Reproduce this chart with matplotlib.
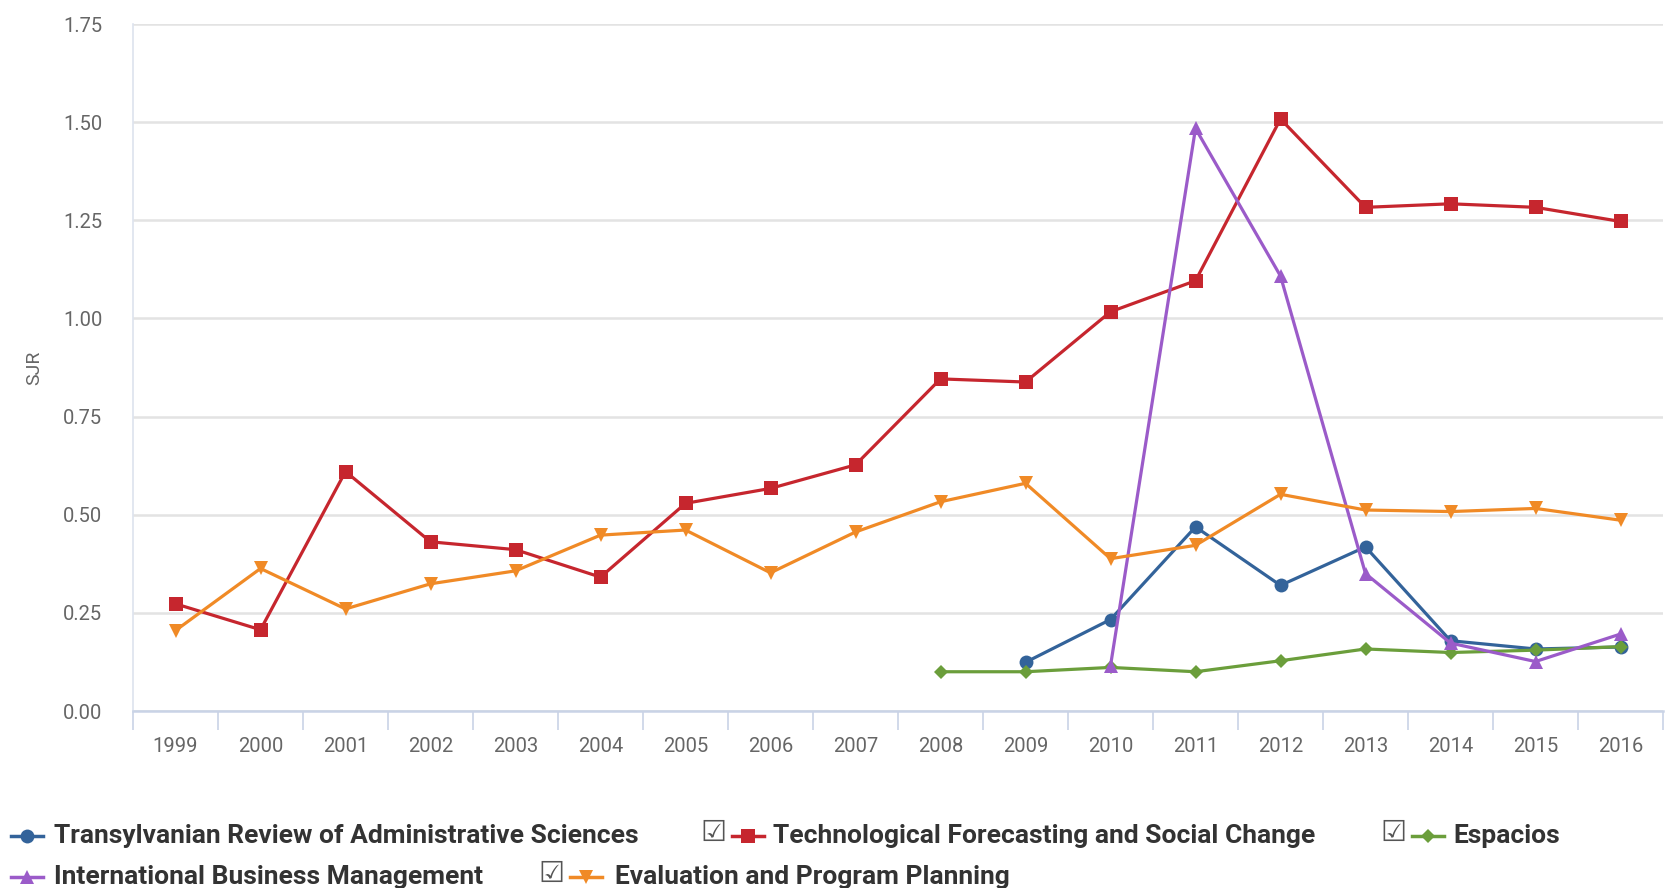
import matplotlib
matplotlib.use("Agg")
import matplotlib.pyplot as plt
from matplotlib.lines import Line2D
from matplotlib.ticker import FixedLocator, NullFormatter

plt.rcParams['font.family'] = ['Liberation Sans Narrow', 'Roboto', 'DejaVu Sans']

years = [str(y) for y in range(1999, 2017)]

# SJR values per journal, None where the journal has no value
transylvanian = [None] * 10 + [0.124, 0.233, 0.469, 0.320, 0.418, 0.179, 0.158, 0.163]
technological = [0.273, 0.207, 0.610, 0.431, 0.411, 0.341, 0.529, 0.567, 0.627,
                 0.846, 0.838, 1.017, 1.096, 1.508, 1.283, 1.292, 1.283, 1.247]
espacios = [None] * 9 + [0.100, 0.100, 0.111, 0.100, 0.128, 0.158, 0.149, 0.155, 0.164]
intl_business = [None] * 11 + [0.115, 1.484, 1.108, 0.350, 0.173, 0.126, 0.196]
evaluation = [0.205, 0.363, 0.260, 0.324, 0.357, 0.448, 0.461, 0.352, 0.456,
              0.533, 0.580, 0.388, 0.422, 0.552, 0.512, 0.508, 0.516, 0.486]

series = [
    ("Transylvanian Review of Administrative Sciences", transylvanian, "#33639a", "o", 10),
    ("Technological Forecasting and Social Change", technological, "#c6262e", "s", 10),
    ("Espacios", espacios, "#6b9e3b", "D", 7),
    ("International Business Management", intl_business, "#9b5bc9", "^", 10),
    ("Evaluation and Program Planning", evaluation, "#f08a26", "v", 10),
]

W, H = 1679, 888
fig = plt.figure(figsize=(W / 100, H / 100), dpi=100)
ax = fig.add_axes([133 / W, 1 - 711 / H, (1663 - 133) / W, (711 - 24) / H])

x = list(range(len(years)))
for i, (name, vals, color, marker, ms) in enumerate(series):
    xs = [xi for xi, v in zip(x, vals) if v is not None]
    ys = [v for v in vals if v is not None]
    ax.plot(xs, ys, color=color, lw=2.3, marker=marker, markersize=ms,
            markeredgewidth=0, zorder=3 + i, clip_on=False)

ax.set_xlim(-0.5, len(years) - 0.5)
ax.set_ylim(0, 1.75)
ax.set_yticks([0, 0.25, 0.5, 0.75, 1.0, 1.25, 1.5, 1.75])
ax.set_yticklabels(["0.00", "0.25", "0.50", "0.75", "1.00", "1.25", "1.50", "1.75"])
ax.set_xticks(x)
ax.set_xticklabels(years)
ax.xaxis.set_minor_locator(FixedLocator([i - 0.5 for i in range(len(years) + 1)]))
ax.xaxis.set_minor_formatter(NullFormatter())

ax.grid(axis='y', color='#e3e3e3', lw=1.8, zorder=0)
ax.set_axisbelow(True)
for side in ['top', 'right']:
    ax.spines[side].set_visible(False)
ax.spines['left'].set_color('#dde3ee')
ax.spines['left'].set_linewidth(1.2)
ax.spines['bottom'].set_color('#c9d3e6')
ax.spines['bottom'].set_linewidth(1.8)

ax.tick_params(axis='y', length=0, pad=22, labelsize=14.5, labelcolor='#666666')
ax.tick_params(axis='x', which='major', length=0, pad=19, labelsize=14.5, labelcolor='#666666')
ax.tick_params(axis='x', which='minor', length=14, width=1.2, color='#c9d3e6')

ax.set_ylabel("SJR", fontsize=14, color='#666666', labelpad=14)

# legend drawn in Highcharts-like flow layout
row1, row2 = 1 - 836 / H, 1 - 877 / H
items = [
    (0, row1, 11, 54, False),
    (1, row1, 732, 773, True),
    (2, row1, 1412, 1453, True),
    (3, row2, 11, 54, False),
    (4, row2, 570, 615, True),
]
leg_size = 19
for idx, yy, lx, tx, box in items:
    name, vals, color, marker, ms = series[idx]
    fig.add_artist(Line2D([lx / W, (lx + 32) / W], [yy, yy], transform=fig.transFigure,
                          color=color, lw=2.5))
    fig.add_artist(Line2D([(lx + 16) / W], [yy], transform=fig.transFigure,
                          color=color, marker=marker, markersize=ms, markeredgewidth=0))
    fig.text(tx / W, yy, name, fontsize=leg_size, fontweight='bold', color='#333333',
             va='center', ha='left')
    if box:
        fig.text((lx - 32) / W, yy + 3 / H, "\u2611", fontsize=21, color='#555555',
                 va='center', ha='left', family='DejaVu Sans')

fig.savefig("out.png", dpi=100)
